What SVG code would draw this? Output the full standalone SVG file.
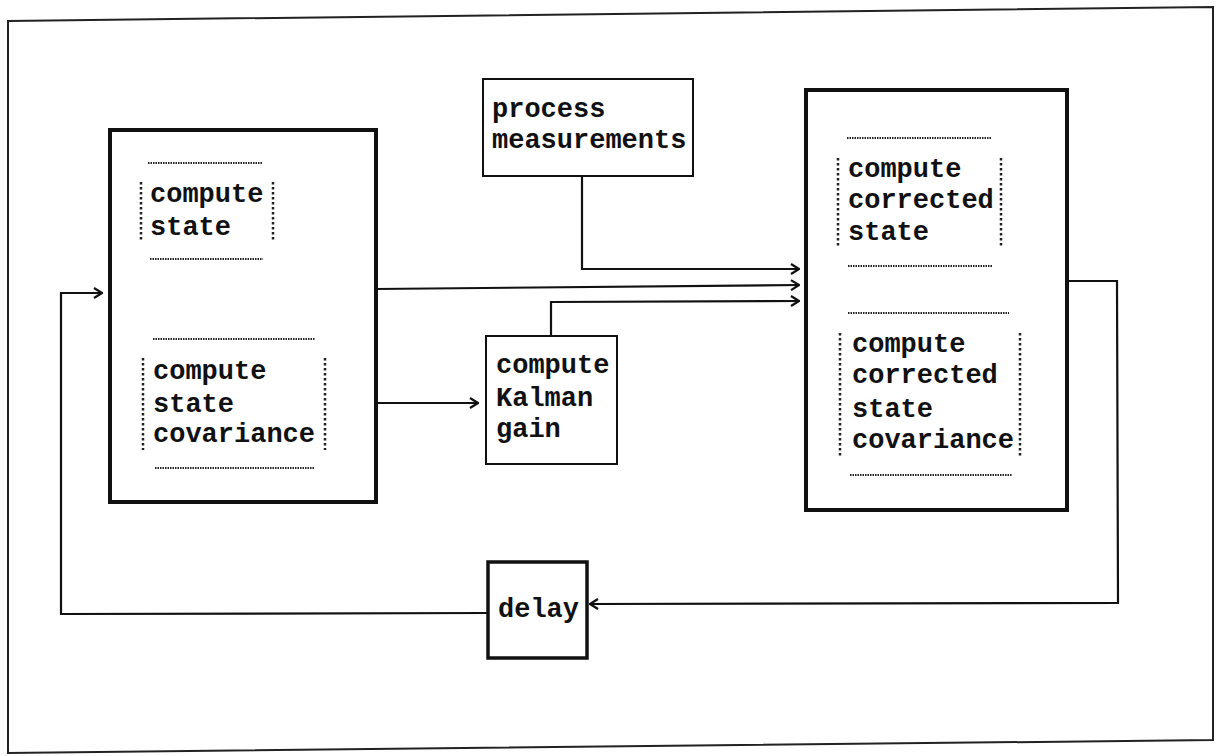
<svg xmlns="http://www.w3.org/2000/svg" width="1218" height="756" viewBox="0 0 1218 756">
  <style>
    .lbl { font-family: "Liberation Mono", "Courier New", monospace; font-size: 27px; font-weight: bold; fill: #111; }
    .thick { fill: none; stroke: #111; stroke-width: 4; }
    .thin { fill: none; stroke: #111; stroke-width: 2; }
    .dotH { stroke: #222; stroke-width: 2; stroke-dasharray: 1.5 1; fill: none; }
    .dotV { stroke: #222; stroke-width: 2.5; stroke-dasharray: 2.5 2.5; fill: none; }
    .wire { fill: none; stroke: #111; stroke-width: 2.2; }
  </style>
  <defs>
    <marker id="arrow" viewBox="0 0 10 12" refX="9" refY="6" markerWidth="10" markerHeight="12" markerUnits="userSpaceOnUse" orient="auto">
      <path d="M1,1 L9,6 L1,11" fill="none" stroke="#111" stroke-width="2.2"/>
    </marker>
  </defs>
  <rect width="1218" height="756" fill="#fff"/>

  <!-- outer frame -->
  <polygon points="8,21 1213,7 1213,740 8,753" fill="none" stroke="#222" stroke-width="2"/>

  <!-- prediction block -->
  <g id="predict">
    <rect class="thick" x="110" y="130" width="266" height="372"/>
    <line class="dotH" x1="148" y1="163" x2="263" y2="163"/>
    <line class="dotV" x1="141" y1="182" x2="141" y2="242"/>
    <line class="dotV" x1="273" y1="182" x2="273" y2="242"/>
    <line class="dotH" x1="150" y1="259" x2="263" y2="259"/>
    <text class="lbl" x="150" y="202">compute</text>
    <text class="lbl" x="150" y="235">state</text>

    <line class="dotH" x1="153" y1="339" x2="315" y2="339"/>
    <line class="dotV" x1="143" y1="358" x2="143" y2="450"/>
    <line class="dotV" x1="325" y1="358" x2="325" y2="450"/>
    <line class="dotH" x1="155" y1="468" x2="315" y2="468"/>
    <text class="lbl" x="153" y="379">compute</text>
    <text class="lbl" x="153" y="412">state</text>
    <text class="lbl" x="153" y="442">covariance</text>
  </g>

  <!-- measurement processing -->
  <g id="measure">
    <rect class="thin" x="483" y="79" width="210" height="97"/>
    <text class="lbl" x="492" y="117">process</text>
    <text class="lbl" x="492" y="148">measurements</text>
  </g>

  <!-- gain computation -->
  <g id="gain">
    <rect class="thin" x="486" y="336" width="131" height="128"/>
    <text class="lbl" x="496" y="373">compute</text>
    <text class="lbl" x="496" y="406">Kalman</text>
    <text class="lbl" x="496" y="437">gain</text>
  </g>

  <!-- correction block -->
  <g id="correct">
    <rect class="thick" x="806" y="90" width="261" height="420"/>
    <line class="dotH" x1="847" y1="138" x2="992" y2="138"/>
    <line class="dotV" x1="838" y1="158" x2="838" y2="247"/>
    <line class="dotV" x1="1001" y1="158" x2="1001" y2="247"/>
    <line class="dotH" x1="848" y1="266" x2="993" y2="266"/>
    <text class="lbl" x="848" y="177">compute</text>
    <text class="lbl" x="848" y="208">corrected</text>
    <text class="lbl" x="848" y="240">state</text>

    <line class="dotH" x1="848" y1="313" x2="1009" y2="313"/>
    <line class="dotV" x1="840" y1="333" x2="840" y2="457"/>
    <line class="dotV" x1="1020" y1="333" x2="1020" y2="457"/>
    <line class="dotH" x1="850" y1="475" x2="1012" y2="475"/>
    <text class="lbl" x="852" y="352">compute</text>
    <text class="lbl" x="852" y="383">corrected</text>
    <text class="lbl" x="852" y="417">state</text>
    <text class="lbl" x="852" y="448">covariance</text>
  </g>

  <!-- unit delay -->
  <g id="delay">
    <rect x="488" y="562" width="99" height="96" fill="none" stroke="#111" stroke-width="3.5"/>
    <text class="lbl" x="498" y="617">delay</text>
  </g>

  <!-- connectors -->
  <g id="connectors">
    <polyline class="wire" points="582,176 582,269 799,269" marker-end="url(#arrow)"/>
    <polyline class="wire" points="376,289 799,285" marker-end="url(#arrow)"/>
    <polyline class="wire" points="551,336 551,302 799,301" marker-end="url(#arrow)"/>
    <polyline class="wire" points="376,403 478,403" marker-end="url(#arrow)"/>
    <polyline class="wire" points="1068,281 1117,281 1118,603 590,604" marker-end="url(#arrow)"/>
    <polyline class="wire" points="488,613 61,614 61,293 102,293" marker-end="url(#arrow)"/>
  </g>
</svg>
